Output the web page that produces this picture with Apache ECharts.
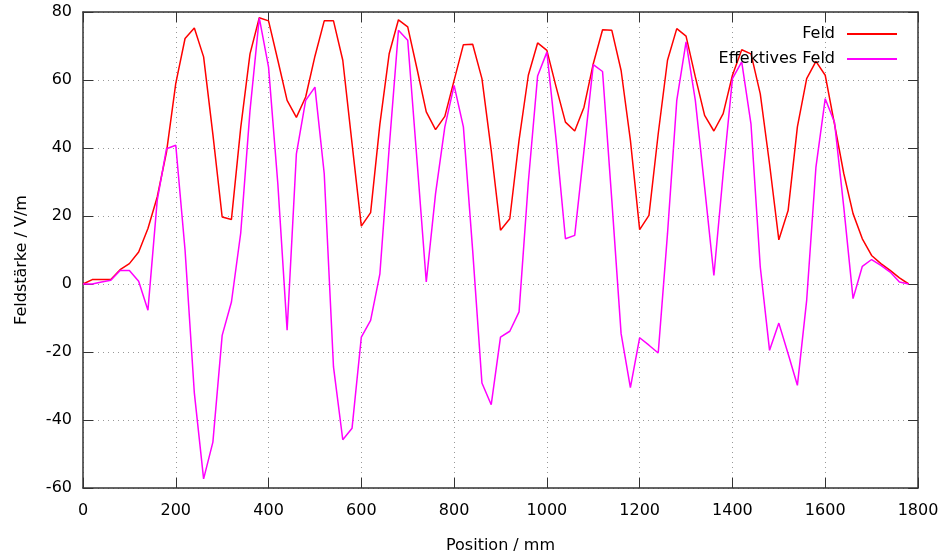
<!DOCTYPE html>
<html>
<head>
<meta charset="utf-8">
<script src="https://cdn.jsdelivr.net/npm/echarts@6/dist/echarts.min.js"></script>
<style>
html,body{margin:0;padding:0;background:#fff;}
#chart{width:945px;height:560px;}
</style>
</head>
<body>
<div id="chart"></div>
<script>
const positions = [0,20,40,60,80,100,120,140,160,180,200,220,240,260,280,300,320,340,360,380,
400,420,440,460,480,500,520,540,560,580,600,620,640,660,680,700,720,740,760,780,
800,820,840,860,880,900,920,940,960,980,1000,1020,1040,1060,1080,1100,1120,1140,1160,1180,
1200,1220,1240,1260,1280,1300,1320,1340,1360,1380,1400,1420,1440,1460,1480,1500,1520,1540,1560,1580,
1600,1620,1640,1660,1680,1700,1720,1740,1760,1780];

const feld = [0,1.3,1.3,1.3,4.2,6,9.4,16.3,25.6,38.8,
59,72.2,75.3,66.8,44,19.7,19,46,67.7,78.3,
77.4,65.8,54,49,55,67,77.4,77.4,65.8,41.3,
17,21,47,67.7,77.7,75.6,63.3,50.6,45.4,49.3,
59.9,70.4,70.5,60.4,39.3,15.8,19.2,42.3,61.4,70.9,
68.7,57.9,47.6,45,52,64.8,74.8,74.6,62.8,42.3,
16,20.2,44.2,65.8,75.1,72.9,60.9,49.6,45,50.1,
61.4,68.9,67.7,55.9,35.3,13,21.6,46.2,60.4,65.5,
61.4,47,32.5,20.7,13.3,8.4,6,4,1.8,0];

const effektiv = [0,0,0.6,1.1,4,4,0.8,-7.7,24.6,39.8,
40.8,10,-32,-57.3,-46.5,-15.1,-5.3,15,51,78.3,
63.8,29.5,-13.6,38.3,54,57.9,32.5,-24.4,-45.8,-42.4,
-15.6,-10.7,3,40,74.6,71.7,36.4,0.6,26.6,46.2,
58.4,46.2,9.9,-29.1,-35.5,-15.6,-13.9,-8.2,30,61.2,
68.2,42.3,13.3,14.3,39.3,64.5,62.5,24.6,-14.6,-30.5,
-15.8,-18,-20.3,14.8,54,71.2,54,28.5,2.5,32.5,
60.4,65.3,47,5,-19.5,-11.5,-20.5,-29.8,-4.8,34.4,
54.5,47.6,22.6,-4.3,5.2,7.2,5.5,3.5,0.6,0];

const seriesNames = ['Feld', 'Effektives Feld'];
const xName = 'Position / mm';
const yName = 'Feldstärke / V/m';

const FONT = 'DejaVu Sans';
const gridStyle = {show:true, lineStyle:{color:'#999999', type:[1,4], width:1}};
const axisLine = {show:true, onZero:false, lineStyle:{color:'#333', width:1.5}};
const tick = {show:true, inside:true, length:10, lineStyle:{color:'#333'}};
const plain = v => String(v);

const chart = echarts.init(document.getElementById('chart'), null, {renderer:'canvas'});
chart.setOption({
  animation:false,
  backgroundColor:'#fff',
  grid:{left:83, right:27, top:12, bottom:72, containLabel:false},
  legend:{
    orient:'vertical', right:48, top:26, padding:0, itemGap:9,
    align:'right', icon:'rect', itemWidth:50, itemHeight:2,
    textStyle:{fontFamily:FONT, fontSize:16, color:'#000', padding:[0,7,0,0]},
    data:seriesNames
  },
  xAxis:[{
    type:'value', min:0, max:1800, interval:200, position:'bottom',
    name:xName, nameLocation:'middle', nameGap:50,
    nameTextStyle:{fontFamily:FONT, fontSize:16, color:'#000'},
    axisLine:axisLine, axisTick:tick,
    axisLabel:{fontFamily:FONT, fontSize:16, color:'#000', margin:15, formatter:plain},
    splitLine:gridStyle
  },{
    type:'value', min:0, max:1800, interval:200, position:'top',
    axisLine:axisLine, axisTick:tick,
    axisLabel:{show:false}, splitLine:{show:false}
  }],
  yAxis:[{
    type:'value', min:-60, max:80, interval:20, position:'left',
    name:yName, nameLocation:'middle', nameGap:53,
    nameTextStyle:{fontFamily:FONT, fontSize:16, color:'#000', padding:[0,20,0,0]},
    axisLine:axisLine, axisTick:tick,
    axisLabel:{fontFamily:FONT, fontSize:16, color:'#000', margin:11, formatter:plain},
    splitLine:gridStyle
  },{
    type:'value', min:-60, max:80, interval:20, position:'right',
    axisLine:axisLine, axisTick:tick,
    axisLabel:{show:false}, splitLine:{show:false}
  }],
  series:[{
    name:seriesNames[0], type:'line', showSymbol:false, symbol:'none',
    itemStyle:{color:'#ff0000'}, lineStyle:{color:'#ff0000', width:1.5},
    data:positions.map((p,i)=>[p, feld[i]])
  },{
    name:seriesNames[1], type:'line', showSymbol:false, symbol:'none',
    itemStyle:{color:'#ff00ff'}, lineStyle:{color:'#ff00ff', width:1.5},
    data:positions.map((p,i)=>[p, effektiv[i]])
  }]
});
</script>
</body>
</html>
